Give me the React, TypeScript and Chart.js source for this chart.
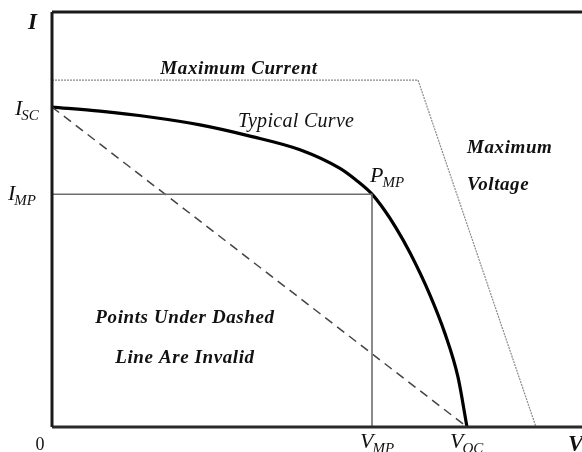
import React, { useEffect, useRef } from "react";
import { Chart, registerables } from "chart.js";

Chart.register(...registerables);

// Data (arbitrary units: voltage 0..53, current 0..10)
const X_MAX = 53;
const Y_MAX = 10;
const V_OC = 41.5;
const V_MP = 32;
const I_SC = 7.71;
const I_MP = 5.61;
const I_MAX = 8.36;
const V_MAX_TOP = 36.6;
const V_MAX_BOTTOM = 48.4;

const curveV = [0, 4.8, 9.8, 14.8, 19.8, 24.8, 28.8, 30.4, 32, 33.2, 34.4, 35.8, 37.8, 39.3, 40.6, 41.5];
const curveI = [7.71, 7.61, 7.47, 7.28, 7.01, 6.68, 6.23, 5.95, 5.61, 5.24, 4.8, 4.2, 3.18, 2.25, 1.2, 0];

const SERIF = '"Liberation Serif", "Times New Roman", serif';

function xy(xs: number[], ys: number[]) {
  return xs.map((x, i) => ({ x, y: ys[i] }));
}

const labelPlugin = {
  id: "labels",
  afterDraw(chart: any) {
    const ctx = chart.ctx as CanvasRenderingContext2D;
    const xs = chart.scales.x;
    const ys = chart.scales.y;
    const px = (v: number) => xs.getPixelForValue(v);
    const py = (v: number) => ys.getPixelForValue(v);
    ctx.save();
    ctx.fillStyle = "#111";
    ctx.textBaseline = "alphabetic";

    const sub = (main: string, s: string, x: number, y: number, size = 22, subSize = 15) => {
      ctx.font = `italic ${size}px ${SERIF}`;
      ctx.textAlign = "left";
      ctx.fillText(main, x, y);
      const w = ctx.measureText(main).width;
      ctx.font = `italic ${subSize}px ${SERIF}`;
      ctx.fillText(s, x + w - 1, y + 5);
    };

    // axis titles
    ctx.font = `bold italic 23px ${SERIF}`;
    ctx.textAlign = "left";
    ctx.fillText("I", 28, 29);
    ctx.fillText("V", 568, 451);

    // origin
    ctx.font = `18px ${SERIF}`;
    ctx.textAlign = "center";
    ctx.fillText("0", 40, 450);

    // tick-like labels
    sub("I", "SC", 15, py(I_SC) + 8);
    sub("I", "MP", 8, py(I_MP) + 6);
    sub("V", "MP", px(V_MP) - 12, 448);
    sub("V", "OC", px(V_OC) - 17, 448);
    sub("P", "MP", px(V_MP) - 2, py(I_MP) - 12);

    // annotations
    (ctx as any).letterSpacing = "0.6px";
    ctx.font = `bold italic 19px ${SERIF}`;
    ctx.textAlign = "center";
    ctx.fillText("Maximum Current", 239, 74);
    ctx.fillText("Points Under Dashed", 185, 323);
    ctx.fillText("Line Are Invalid", 185, 363);
    ctx.textAlign = "left";
    ctx.fillText("Maximum", 467, 153);
    ctx.fillText("Voltage", 467, 190);
    (ctx as any).letterSpacing = "0.3px";
    ctx.font = `italic 20px ${SERIF}`;
    ctx.fillText("Typical Curve", 238, 127);
    ctx.restore();
  },
};

export default function App() {
  const ref = useRef<HTMLCanvasElement | null>(null);
  useEffect(() => {
    document.body.style.margin = "0";
    const canvas = ref.current!;
    const chart = new Chart(canvas, {
      type: "line",
      data: {
        datasets: [
          {
            label: "Frame top",
            data: [{ x: 0, y: Y_MAX }, { x: X_MAX, y: Y_MAX }],
            borderColor: "#1a1a1a",
            borderWidth: 3,
            pointRadius: 0,
          },
          {
            label: "Frame left",
            data: [{ x: 0, y: 0 }, { x: 0, y: Y_MAX }],
            borderColor: "#1a1a1a",
            borderWidth: 3,
            pointRadius: 0,
          },
          {
            label: "Frame bottom",
            data: [{ x: 0, y: 0 }, { x: X_MAX, y: 0 }],
            borderColor: "#2a2a2a",
            borderWidth: 3,
            pointRadius: 0,
          },
          {
            label: "Maximum envelope",
            data: [{ x: 0, y: I_MAX }, { x: V_MAX_TOP, y: I_MAX }, { x: V_MAX_BOTTOM, y: 0 }],
            borderColor: "#8a8a8a",
            borderWidth: 1.2,
            borderDash: [2, 1],
            pointRadius: 0,
          },
          {
            label: "Imp",
            data: [{ x: 0, y: I_MP }, { x: V_MP, y: I_MP }, { x: V_MP, y: 0 }],
            borderColor: "#6e6e6e",
            borderWidth: 1.6,
            pointRadius: 0,
          },
          {
            label: "Invalid",
            data: [{ x: 0, y: I_SC }, { x: V_OC, y: 0 }],
            borderColor: "#444",
            borderWidth: 1.5,
            borderDash: [9, 6],
            pointRadius: 0,
          },
          {
            label: "Typical Curve",
            data: xy(curveV, curveI),
            borderColor: "#000",
            borderWidth: 3.2,
            pointRadius: 0,
            cubicInterpolationMode: "monotone",
          },
        ],
      },
      options: {
        animation: false,
        responsive: false,
        layout: { padding: { left: 52, top: 12, right: 0, bottom: 25 } },
        plugins: { legend: { display: false }, tooltip: { enabled: false } },
        elements: { line: { borderCapStyle: "butt", borderJoinStyle: "round" } },
        datasets: { line: { clip: false } as any },
        scales: {
          x: { type: "linear", display: false, min: 0, max: X_MAX },
          y: { type: "linear", display: false, min: 0, max: Y_MAX },
        },
      },
      plugins: [labelPlugin],
    });
    return () => chart.destroy();
  }, []);
  return (
    <div style={{ width: 582, height: 452 }}>
      <canvas ref={ref} width={582} height={452} />
    </div>
  );
}
